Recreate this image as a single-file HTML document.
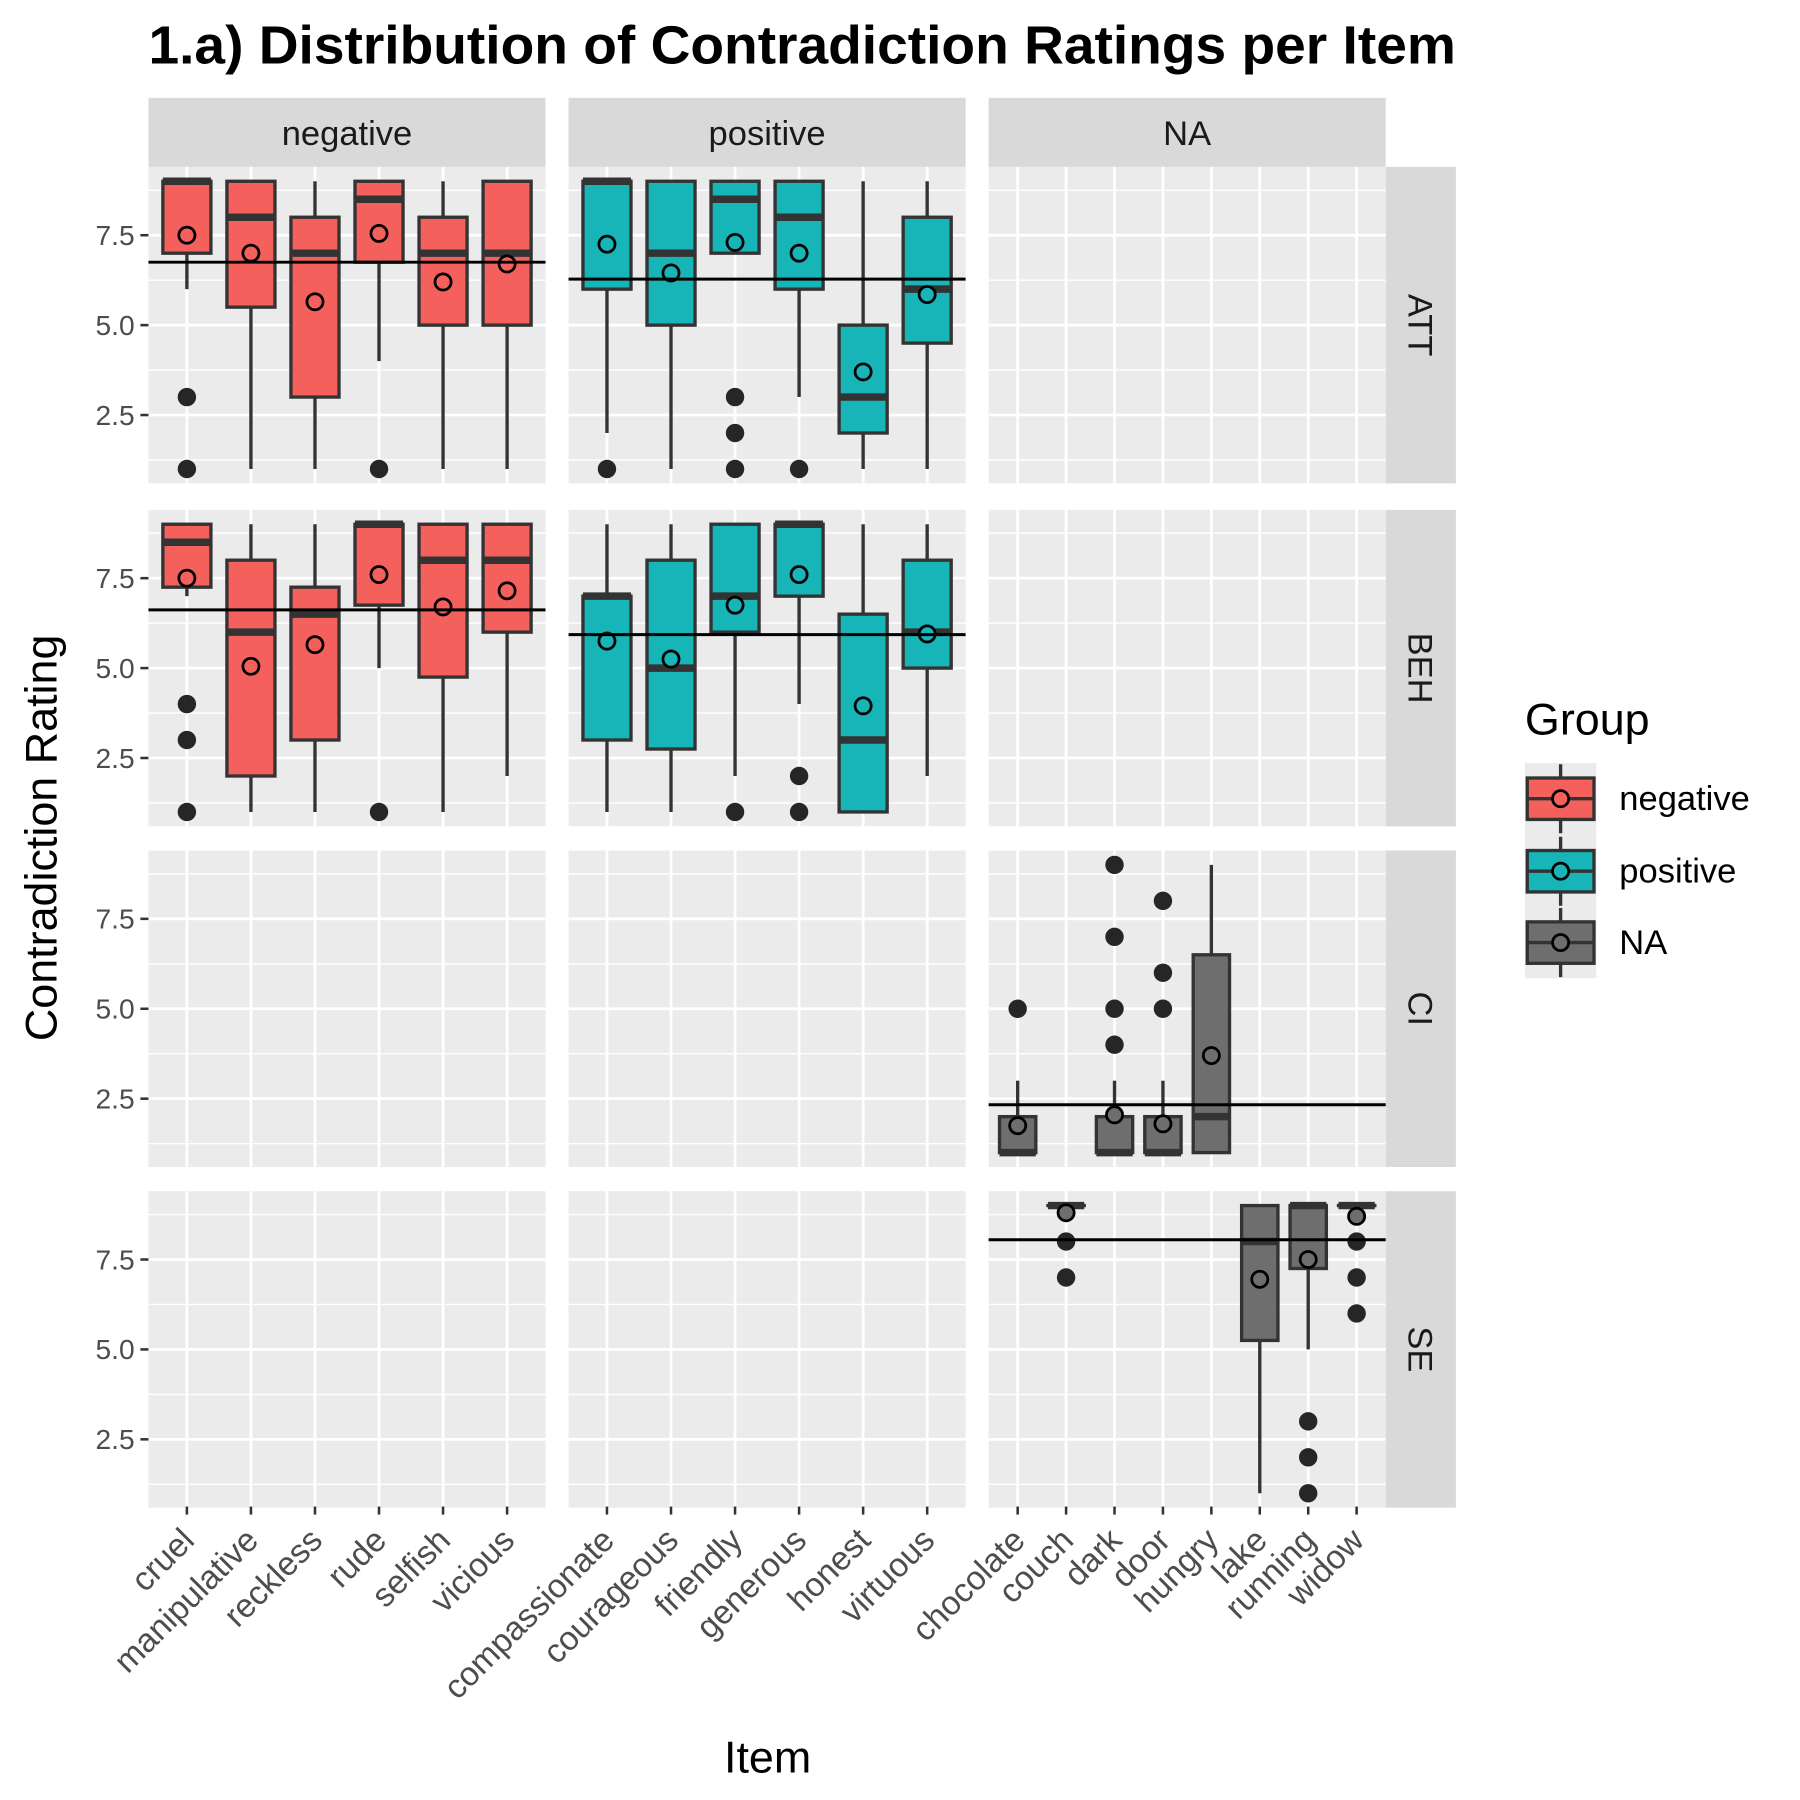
<!DOCTYPE html>
<html><head><meta charset="utf-8"><style>
html,body{margin:0;padding:0;background:#fff;}
svg{display:block;font-family:"Liberation Sans",Arial,sans-serif;}
</style></head><body>
<svg id="chart" xmlns="http://www.w3.org/2000/svg" width="1800" height="1800" viewBox="0 0 1564 1564">
<text x="129" y="55" font-size="47" font-weight="bold" fill="#000" textLength="1136" lengthAdjust="spacingAndGlyphs">1.a) Distribution of Contradiction Ratings per Item</text>
<text transform="translate(49,728) rotate(-90)" text-anchor="middle" font-size="39" fill="#000">Contradiction Rating</text>
<text x="667" y="1540" text-anchor="middle" font-size="39" fill="#000">Item</text>
<g id="g"></g>
<g>
<text x="1325" y="638" font-size="39" fill="#000">Group</text>
<rect x="1325" y="663" width="62" height="187" fill="#ebebeb"/>
<g id="leg"></g>
</g>
</svg>
<script>
const NS="http://www.w3.org/2000/svg";
const groups=["negative","positive","NA"];
const rowsN=["ATT","BEH","CI","SE"];
const fills=["#F4615D","#17B5B8","#6E6E6E"];
const itemsNeg=["cruel","manipulative","reckless","rude","selfish","vicious"];
const itemsPos=["compassionate","courageous","friendly","generous","honest","virtuous"];
const itemsNA=["chocolate","couch","dark","door","hungry","lake","running","widow"];
// each box: [item index, lowWhisker, q1, median, q3, highWhisker, mean]
const attNeg=[[0,6,7,9,9,9,7.5],[1,1,5.5,8,9,9,7.0],[2,1,3,7,8,9,5.65],[3,4,6.75,8.5,9,9,7.55],[4,1,5,7,8,9,6.2],[5,1,5,7,9,9,6.7]];
const attNegOut=[[0,3],[0,1],[3,1]];
const attPos=[[0,2,6,9,9,9,7.25],[1,1,5,7,9,9,6.45],[2,7,7,8.5,9,9,7.3],[3,3,6,8,9,9,7.0],[4,1,2,3,5,9,3.7],[5,1,4.5,6,8,9,5.85]];
const attPosOut=[[0,1],[2,3],[2,2],[2,1],[3,1]];
const behNeg=[[0,7,7.25,8.5,9,9,7.5],[1,1,2,6,8,9,5.05],[2,1,3,6.5,7.25,9,5.65],[3,5,6.75,9,9,9,7.6],[4,1,4.75,8,9,9,6.7],[5,2,6,8,9,9,7.15]];
const behNegOut=[[0,4],[0,3],[0,1],[3,1]];
const behPos=[[0,1,3,7,7,9,5.75],[1,1,2.75,5,8,9,5.25],[2,2,6,7,9,9,6.75],[3,4,7,9,9,9,7.6],[4,1,1,3,6.5,9,3.95],[5,2,5,6,8,9,5.95]];
const behPosOut=[[2,1],[3,2],[3,1]];
const ciNA=[[0,1,1,1,2,3,1.75],[2,1,1,1,2,3,2.05],[3,1,1,1,2,3,1.8],[4,1,1,2,6.5,9,3.7]];
const ciNAOut=[[0,5],[2,9],[2,7],[2,5],[2,4],[3,8],[3,6],[3,5]];
const seNA=[[1,9,9,9,9,9,8.8],[5,1,5.25,8,9,9,6.95],[6,5,7.25,9,9,9,7.5],[7,9,9,9,9,9,8.7]];
const seNAOut=[[1,8],[1,7],[6,3],[6,2],[6,1],[7,8],[7,7],[7,6]];
const refLines=[[6.75,6.28,null],[6.62,5.93,null],[null,null,2.33],[null,null,8.05]];
const yTicks=[2.5,5.0,7.5];
const yTickLabels=["2.5","5.0","7.5"];

const panels={"0,0":[attNeg,attNegOut],"0,1":[attPos,attPosOut],"1,0":[behNeg,behNegOut],"1,1":[behPos,behPosOut],"2,2":[ciNA,ciNAOut],"3,2":[seNA,seNAOut]};
const itemsBy=[itemsNeg,itemsPos,itemsNA];
const colX=[129,494,859], PW=345;
const rowY=[145,443,739,1035], PH=275;
const YMIN=0.6,YMAX=9.4;
function yS(r,v){return rowY[r]+(YMAX-v)/(YMAX-YMIN)*PH;}
function xS(c,i){const n=itemsBy[c].length;return colX[c]+(i+1-0.4)/(n+0.2)*PW;}
function bw(c){return 0.75/(itemsBy[c].length+0.2)*PW;}
const g=document.getElementById('g');
function el(t,a,p){const e=document.createElementNS(NS,t);for(const k in a)e.setAttribute(k,a[k]);(p||g).appendChild(e);return e;}

// strips
groups.forEach((gn,c)=>{
 const s=el('rect',{x:colX[c],y:85,width:PW,height:60,fill:'#d9d9d9'});
 
 
 const t=el('text',{x:colX[c]+PW/2,y:126,'text-anchor':'middle','font-size':'30',fill:'#1a1a1a'});t.textContent=gn;
 
 
});
rowsN.forEach((rn,r)=>{
 const s=el('rect',{x:1204,y:rowY[r],width:61,height:PH,fill:'#d9d9d9'});
 
 
 const t=el('text',{transform:`translate(1224,${rowY[r]+PH/2}) rotate(90)`,'text-anchor':'middle','font-size':'30',fill:'#1a1a1a'});t.textContent=rn;
 
 
});
// panels
for(let r=0;r<4;r++)for(let c=0;c<3;c++){
 const pg=el('g',{});
 
 
 el('rect',{x:colX[c],y:rowY[r],width:PW,height:PH,fill:'#ebebeb'},pg);
 for(let v=1.25;v<=9.4;v+=2.5){const y=yS(r,v);el('line',{x1:colX[c],x2:colX[c]+PW,y1:y,y2:y,stroke:'#fff','stroke-width':1.2},pg);}
 yTicks.forEach(v=>{const y=yS(r,v);el('line',{x1:colX[c],x2:colX[c]+PW,y1:y,y2:y,stroke:'#fff','stroke-width':2.4},pg);});
 itemsBy[c].forEach((it,i)=>{const x=xS(c,i);el('line',{x1:x,x2:x,y1:rowY[r],y2:rowY[r]+PH,stroke:'#fff','stroke-width':2.4},pg);});
 const key=r+','+c;
 if(panels[key]){
  const [boxes,outs]=panels[key];const w=bw(c);
  boxes.forEach(b=>{
   const [i,lo,q1,md,q3,hi,mn]=b;const x=xS(c,i);
   const bg=el('g',{},pg);
   
   
   el('line',{x1:x,x2:x,y1:yS(r,hi),y2:yS(r,q3),stroke:'#333','stroke-width':2.9},bg);
   el('line',{x1:x,x2:x,y1:yS(r,q1),y2:yS(r,lo),stroke:'#333','stroke-width':2.9},bg);
   el('rect',{x:x-w/2,y:yS(r,q3),width:w,height:Math.max(0.01,yS(r,q1)-yS(r,q3)),fill:fills[c],stroke:'#333','stroke-width':2.9},bg);
   el('line',{x1:x-w/2,x2:x+w/2,y1:yS(r,md),y2:yS(r,md),stroke:'#333','stroke-width':6.5},bg);
  });
  outs.forEach(o=>{const d=el('circle',{cx:xS(c,o[0]),cy:yS(r,o[1]),r:8,fill:'#262626'},pg);
   
   });
  boxes.forEach(b=>{const m=el('circle',{cx:xS(c,b[0]),cy:yS(r,b[6]),r:7,fill:fills[c],stroke:'#000','stroke-width':2.4},pg);
   
   });
 }
 const rl=refLines[r][c];
 if(rl!==null){const l=el('line',{x1:colX[c],x2:colX[c]+PW,y1:yS(r,rl),y2:yS(r,rl),stroke:'#000','stroke-width':2.6},pg);
  
  }
}
// y axis ticks
for(let r=0;r<4;r++){yTicks.forEach((v,k)=>{const y=yS(r,v);
 el('line',{x1:122,x2:129,y1:y,y2:y,stroke:'#333','stroke-width':2.2});
 const t=el('text',{x:117,y:y+8.5,'text-anchor':'end','font-size':'24.5',fill:'#4d4d4d'});t.textContent=yTickLabels[k];
 
 });}
// x axis ticks
for(let c=0;c<3;c++)itemsBy[c].forEach((it,i)=>{const x=xS(c,i);
 el('line',{x1:x,x2:x,y1:1309,y2:1316,stroke:'#333','stroke-width':2.2});
 const t=el('text',{transform:`translate(${x+8},${1340}) rotate(-45)`,'text-anchor':'end','font-size':'29',fill:'#4d4d4d'});t.textContent=it;
 
 });
// legend
const leg=document.getElementById('leg');
const legY=[694,757,819];
groups.forEach((gn,k)=>{
 const lg=el('g',{},leg);
 
 
 const cx=1356,cy=legY[k];
 el('line',{x1:cx,x2:cx,y1:cy-30,y2:cy+30,stroke:'#333','stroke-width':2.9},lg);
 el('rect',{x:cx-29,y:cy-18,width:58,height:36,fill:fills[k],stroke:'#333','stroke-width':2.9},lg);
 el('line',{x1:cx-29,x2:cx+29,y1:cy,y2:cy,stroke:'#333','stroke-width':2.9},lg);
 el('circle',{cx:cx,cy:cy,r:7,fill:fills[k],stroke:'#000','stroke-width':2.4},lg);
 const t=el('text',{x:1407,y:cy+10,'font-size':'30',fill:'#000'},lg);t.textContent=gn;
});
</script>
</body></html>
